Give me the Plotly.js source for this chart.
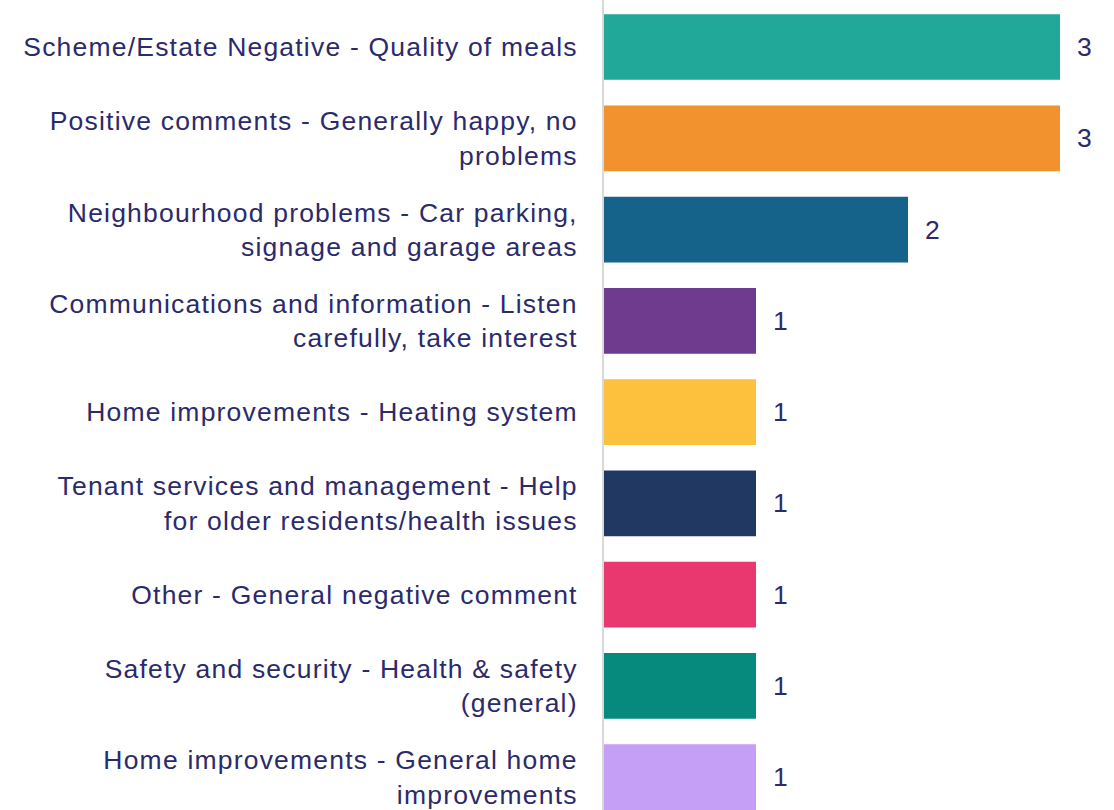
<!DOCTYPE html>
<html>
<head>
<meta charset="utf-8">
<script src="https://cdn.plot.ly/plotly-3.0.1.min.js"></script>
<style>
html,body{margin:0;padding:0;background:#fff;}
#chart{width:1114px;height:810px;}
#chart .ytick text{letter-spacing:1.2px;}
</style>
</head>
<body>
<div id="chart"></div>
<script>
const categories = [
  "Scheme/Estate Negative - Quality of meals",
  "Positive comments - Generally happy, no<br>problems",
  "Neighbourhood problems - Car parking,<br>signage and garage areas",
  "Communications and information - Listen<br>carefully, take interest",
  "Home improvements - Heating system",
  "Tenant services and management - Help<br>for older residents/health issues",
  "Other - General negative comment",
  "Safety and security - Health & safety<br>(general)",
  "Home improvements - General home<br>improvements"
];
const values = [3, 3, 2, 1, 1, 1, 1, 1, 1];
const colors = ["#22a898", "#f2922e", "#15628a", "#6e3b8e", "#fec13d", "#213862", "#e8386f", "#068a7d", "#c59ef5"];

const textColor = "#2b2a6b";
const fontFamily = "Liberation Sans, Arial, sans-serif";
const trace = {
  type: "bar",
  orientation: "h",
  x: values,
  y: categories,
  marker: {color: colors},
  hoverinfo: "none"
};
const annotations = values.map((v, i) => ({
  x: v, y: categories[i], xref: "x", yref: "y",
  text: String(v), showarrow: false, xanchor: "left", xshift: 15,
  font: {family: fontFamily, size: 26.5, color: textColor}
}));
const layout = {
  width: 1114, height: 810,
  margin: {l: 604, r: 54, t: 0, b: 0},
  paper_bgcolor: "#fff", plot_bgcolor: "#fff",
  bargap: 0.28,
  showlegend: false,
  font: {family: fontFamily, size: 26.5, color: textColor},
  xaxis: {range: [0, 3], showgrid: false, zeroline: false, showticklabels: false, showline: false, fixedrange: true},
  yaxis: {type: "category", range: [8.36, -0.515], showgrid: false, zeroline: false,
          showline: true, linecolor: "#d9d9d9", linewidth: 2, ticks: "", ticklabelstandoff: 19,
          tickfont: {family: fontFamily, size: 26.5, color: textColor}},
  annotations: annotations
};
Plotly.newPlot("chart", [trace], layout, {displayModeBar: false, staticPlot: true});
</script>
</body>
</html>
